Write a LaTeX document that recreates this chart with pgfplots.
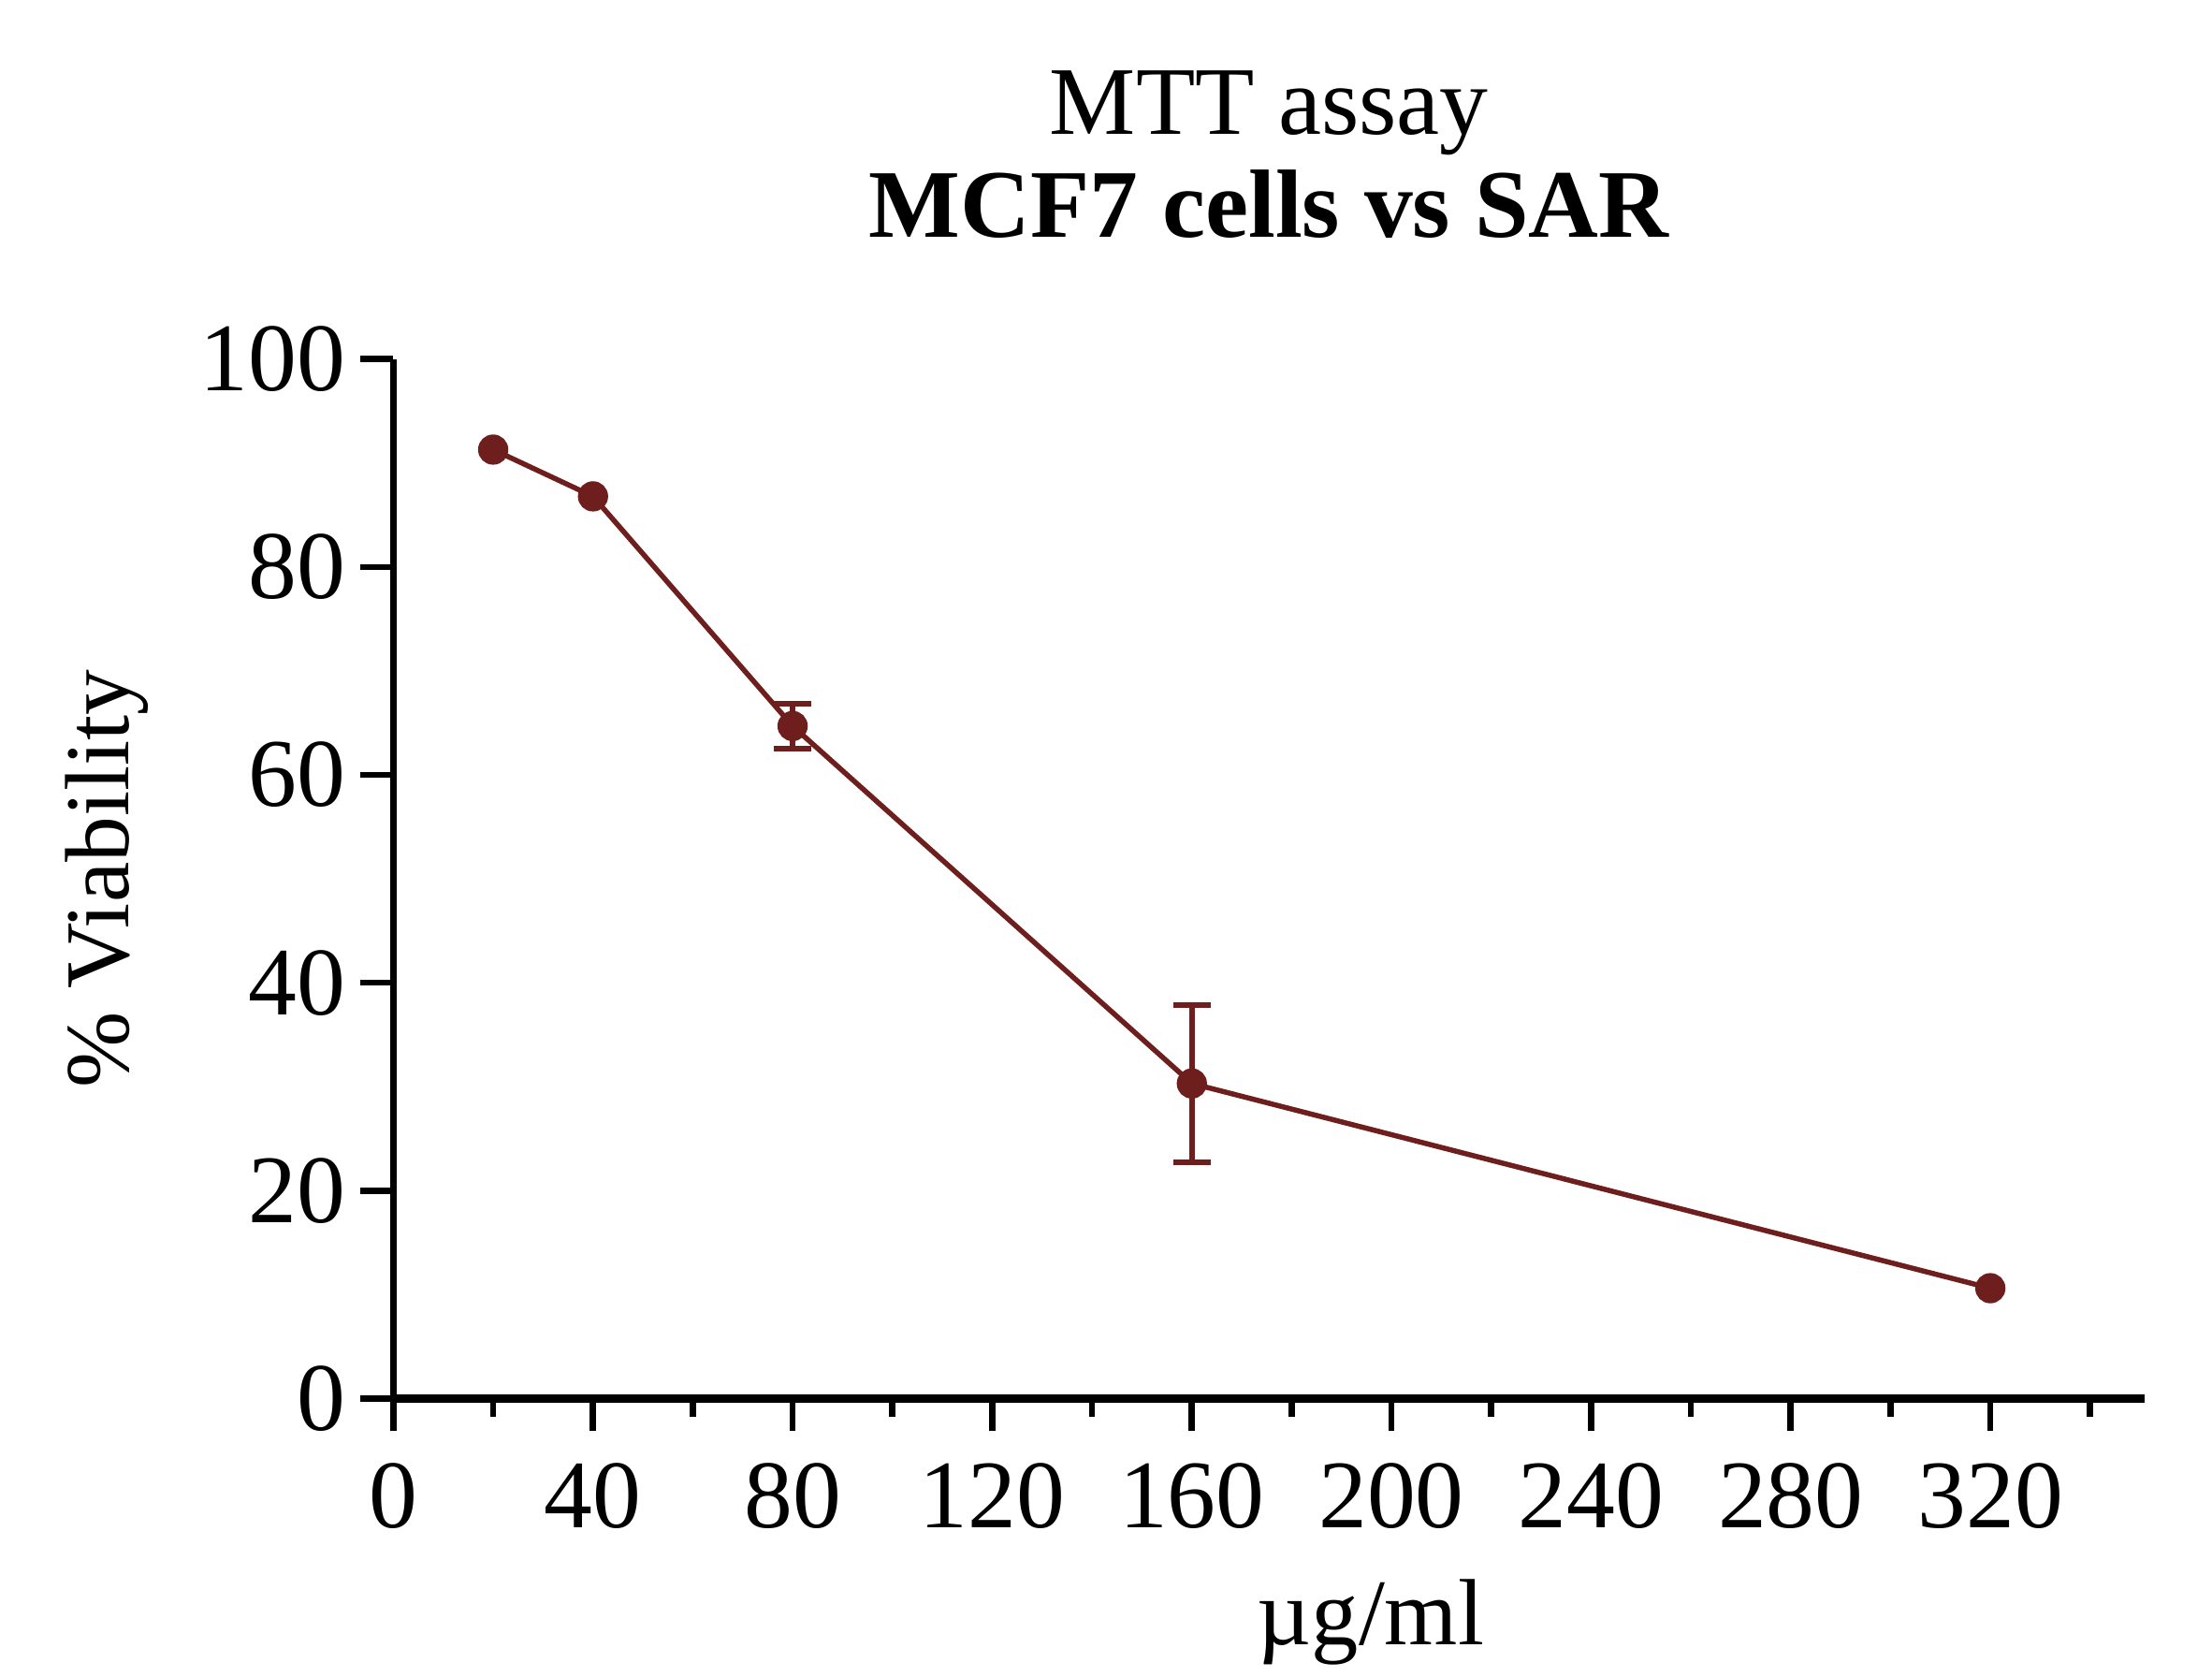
\documentclass[border=0pt]{standalone}
\usepackage{fontspec}
\setmainfont{Liberation Serif}
\usepackage{pgfplots}
\pgfplotsset{compat=1.18}
\definecolor{dred}{RGB}{110,31,29}
\begin{document}
\begin{tikzpicture}
\begin{axis}[
  scale only axis,
  width=307.25pt, height=182.25pt,
  xmin=0, xmax=351, ymin=0, ymax=100,
  axis lines=left,
  axis line style={-, line width=1.2pt, black},
  x axis line style={line width=1.4pt},
  xtick={0,40,...,320},
  minor xtick={20,60,...,340},
  ytick={0,20,...,100},
  tick align=outside,
  major tick length=5.75pt,
  minor tick length=3.2pt,
  every tick/.style={black, line width=1.1pt},
  /pgf/number format/assume math mode=true,
  tick label style={font=\fontsize{17}{20}\selectfont, inner sep=0pt},
  xticklabel shift=5.5pt,
  yticklabel shift=2.5pt,
  title={MTT assay\\\textbf{MCF7 cells vs SAR}},
  title style={font=\fontsize{17}{18}\selectfont, align=center, inner sep=0pt, at={(axis description cs:0.5,1)}, anchor=south, yshift=15pt},
  xlabel={µg/ml},
  xlabel style={font=\fontsize{16.5}{19}\selectfont, at={(axis description cs:0.558,-0.215)}, anchor=center},
  ylabel={\% Viability},
  ylabel style={font=\fontsize{16}{19}\selectfont, at={(axis description cs:-0.1636,0.5)}, anchor=center},
  clip=false,
]
\addplot[dred, line width=0.9pt, mark=*, mark size=2.2pt, mark options={solid, fill=dred}]
  coordinates {
  (20,91.3)
  (40,86.8)
  (80,64.7)
  (160,30.3)
  (320,10.6)
};
\addplot[dred, only marks, mark=none, forget plot,
  error bars/.cd, y dir=both, y explicit,
  error bar style={line width=1pt, dred},
  error mark options={rotate=90, mark size=3.25pt, line width=1pt, dred}]
  coordinates {
  (80,64.7) +- (0,2.15)
  (160,30.3) +- (0,7.55)
};
\end{axis}
\pgfresetboundingbox
\path (-69pt,-48.75pt) rectangle (319pt,245.25pt);
\end{tikzpicture}
\end{document}
